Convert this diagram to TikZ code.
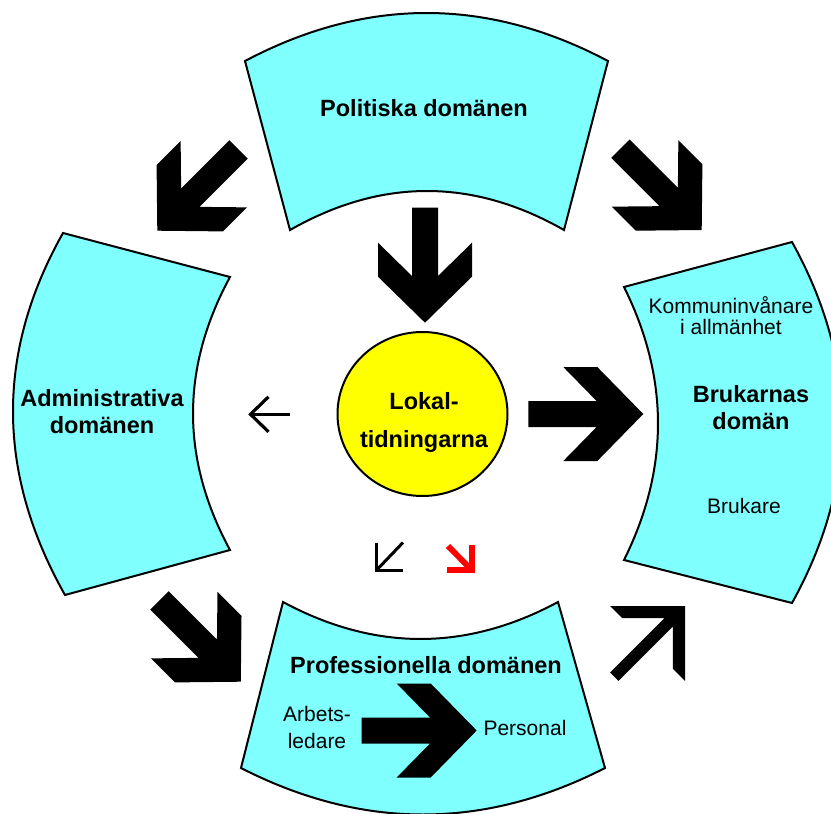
\documentclass[tikz,border=0pt]{standalone}
\usepackage{fontspec}
\setmainfont{Liberation Sans}
\usepackage{tikz}
\usetikzlibrary{arrows.meta,calc}

\definecolor{domcyan}{RGB}{128,255,255}
\definecolor{lokyellow}{RGB}{255,255,0}

% block arrow, tip at #1, pointing at angle #2
\newcommand{\blkarrow}[2]{%
  \fill[shift={(#1)}, rotate=#2] (0,0) -- (-46,47) -- (-80,47) -- (-46.7,13)
    -- (-115,13) -- (-115,-13) -- (-46.7,-13) -- (-80,-47) -- (-46,-47) -- cycle;}
% slim arrow with a chevron head
\newcommand{\slimarrow}[2]{%
  \fill[shift={(#1)}, rotate=#2] (0,0) -- (-53,53) -- (-53,36) -- (-23,6)
    -- (-100,6) -- (-100,-6) -- (-23,-6) -- (-53,-36) -- (-53,-53) -- cycle;}

\tikzset{
  domshape/.style={fill=domcyan, draw=black, line width=2pt, line join=miter},
  boldlbl/.style={font=\fontsize{23.5}{27}\selectfont\bfseries, align=center, inner sep=0pt},
  smalllbl/.style={font=\fontsize{21}{21}\selectfont, align=center, inner sep=0pt},
  thinarrow/.style={line width=3.2pt, line join=miter, line cap=butt}
}

\begin{document}
\begin{tikzpicture}[x=1pt,y=-1pt]
  \useasboundingbox (0,0) rectangle (831,814);

  % the four domains
  \filldraw[domshape] (245,61) .. controls (366,-3) and (487,-3) .. (608,61)
    -- (564,230) .. controls (472.7,178) and (381.3,178) .. (290,230) -- cycle;
  \filldraw[domshape] (63,233) -- (230,277) .. controls (180.7,368) and (180.7,459) .. (230,550)
    -- (65,595) .. controls (-3,474.3) and (-5,353.7) .. cycle;
  \filldraw[domshape] (792,242) .. controls (858.7,362.3) and (858.7,482.7) .. (792,603)
    -- (624,560) .. controls (669.3,469) and (669.3,378) .. (624,287) -- cycle;
  \filldraw[domshape] (283,602) .. controls (374.7,651.3) and (466.3,651.3) .. (558,602)
    -- (605,768) .. controls (483.7,830) and (362.3,830) .. (241,768) -- cycle;

  % block arrows
  \blkarrow{425,322.7}{-90}
  \blkarrow{643.3,414}{0}
  \blkarrow{157.3,230.7}{225}
  \blkarrow{701.7,230}{-45}
  \blkarrow{240.8,681.7}{-45}
  \blkarrow{476.7,730.5}{0}
  \slimarrow{685,606}{45}

  % centre
  \filldraw[fill=lokyellow, draw=black, line width=2pt] (422.5,414) ellipse [x radius=85, y radius=82];
  \node[boldlbl, font=\fontsize{23.5}{38}\selectfont\bfseries] (lok) at (424,422) {Lokal-\\tidningarna};

  % labels
  \node[boldlbl] (pol) at (424,108) {Politiska domänen};
  \node[boldlbl] (adm) at (102,412) {Administrativa\\domänen};
  \node[boldlbl] (bru) at (751,408) {Brukarnas\\domän};
  \node[boldlbl] (pro) at (426,665) {Professionella domänen};
  \node[smalllbl] (kom) at (731,315.5) {Kommuninvånare\\i allmänhet};
  \node[smalllbl] (bkr) at (744,506) {Brukare};
  \node[smalllbl, font=\fontsize{21}{27}\selectfont] (arb) at (317,727) {Arbets-\\ledare};
  \node[smalllbl] (per) at (525,728) {Personal};

  % small arrows
  \coordinate (ltail) at (290,414.3);
  \coordinate (lhead) at (250.5,414.3);
  \coordinate (dltail) at (403,542.5);
  \coordinate (dlhead) at (376.5,570.2);
  \coordinate (drtail) at (448,546);
  \coordinate (drhead) at (472,570.3);
  \draw[thinarrow] (ltail) -- (lhead);
  \draw[thinarrow] ($(lhead)+(18,-17.5)$) -- (lhead) -- ($(lhead)+(18,17.5)$);
  \draw[thinarrow, line width=3pt] (dltail) -- (dlhead);
  \draw[thinarrow, line width=3pt] ($(dlhead)+(0,-27.5)$) -- (dlhead) -- ($(dlhead)+(26,0)$);
  \draw[thinarrow, red, line width=5.8pt] (drtail) -- (drhead);
  \draw[thinarrow, red, line width=5.8pt] ($(drhead)+(0,-25.5)$) -- (drhead) -- ($(drhead)+(-25.5,0)$);
\end{tikzpicture}
\end{document}
